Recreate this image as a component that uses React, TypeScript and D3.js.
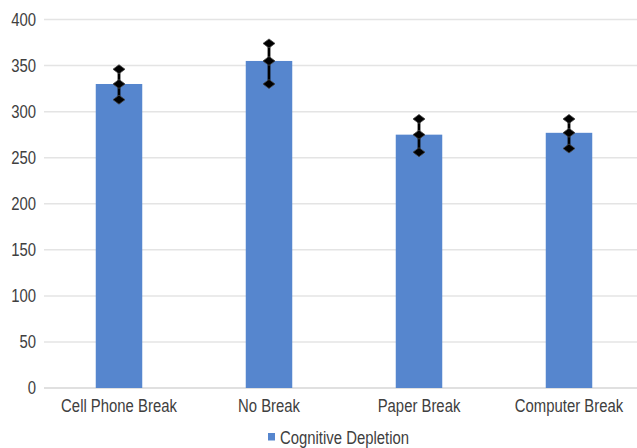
import React from "react";
import * as d3 from "d3";

const categories = ["Cell Phone Break", "No Break", "Paper Break", "Computer Break"];
const values = [330, 355, 275, 277];
const errLow = [313, 330, 256, 260];
const errHigh = [346, 374, 292, 292];
const yTicks = [0, 50, 100, 150, 200, 250, 300, 350, 400];
const seriesName = "Cognitive Depletion";

const W = 637;
const H = 448;
const BAR = "#5686ce";
const TXT = "#404040";

export default function App() {
  const x = d3.scaleBand<string>().domain(categories).range([44, 644]).paddingInner(0.69).paddingOuter(0.345);
  const y = d3.scaleLinear().domain([0, 400]).range([388, 19.5]);
  const bw = x.bandwidth();
  const diamond = (cx: number, cy: number) =>
    `M${cx},${cy - 4.5}L${cx + 6},${cy}L${cx},${cy + 4.5}L${cx - 6},${cy}Z`;
  const font = "'Liberation Sans', Arial, sans-serif";
  return (
    <svg width={W} height={H} style={{ position: "absolute", left: 0, top: 0, background: "#fff" }}>
      {yTicks.map((t) => (
        <g key={t}>
          <line x1={44} x2={W} y1={y(t)} y2={y(t)} stroke={t === 0 ? "#d6d6d6" : "#e4e4e4"} strokeWidth={1.5} />
          <text
            transform={`translate(36,${y(t) + 6}) scale(0.93,1.1)`}
            textAnchor="end"
            fontFamily={font}
            fontSize={16}
            fill={TXT}
          >
            {t}
          </text>
        </g>
      ))}
      {categories.map((c, i) => {
        const cx = (x(c) as number) + bw / 2;
        return (
          <g key={c}>
            <rect x={x(c)} y={y(values[i])} width={bw} height={y(0) - y(values[i])} fill={BAR} />
            <line x1={cx} x2={cx} y1={y(errLow[i])} y2={y(errHigh[i])} stroke="#000" strokeWidth={2.8} />
            {[errLow[i], values[i], errHigh[i]].map((v, k) => (
              <path key={k} d={diamond(cx, y(v))} fill="#000" stroke="#444" strokeWidth={0.8} />
            ))}
            <text
              transform={`translate(${cx},411.5) scale(0.93,1.12)`}
              textAnchor="middle"
              fontFamily={font}
              fontSize={16}
              fill={TXT}
            >
              {c}
            </text>
          </g>
        );
      })}
      <rect x={268} y={433} width={7} height={7.5} fill={BAR} />
      <text transform={`translate(280,444) scale(0.93,1.12)`} fontFamily={font} fontSize={16} fill={TXT}>
        {seriesName}
      </text>
    </svg>
  );
}
